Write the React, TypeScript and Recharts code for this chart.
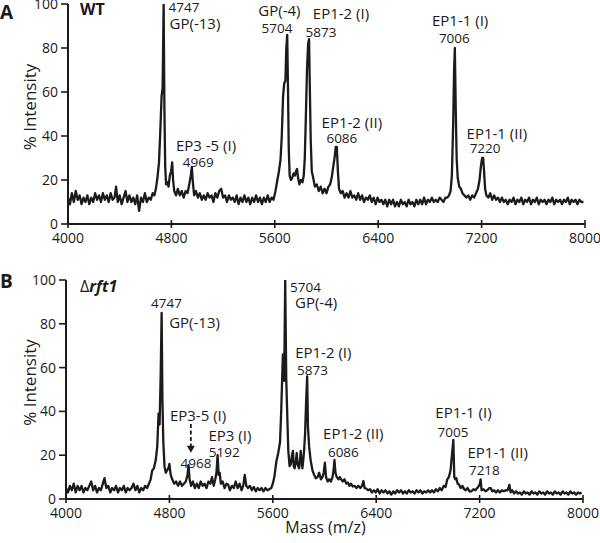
import React from 'react';
import { LineChart, Line, XAxis, YAxis, ReferenceDot, ReferenceLine, Label } from 'recharts';

const FONT = '"Open Sans", "Liberation Sans", Arial, sans-serif';
const INK = '#1c1a1a';

const massTicks = [4000, 4800, 5600, 6400, 7200, 8000];
const intensityTicks = [0, 20, 40, 60, 80, 100];

// WT spectrum: [mass (m/z), % intensity]
const wtSpectrum: [number, number][] = [
  [4000,12],[4015,9],[4030,14],[4045,10],[4060,15],[4075,11],[4090,13],[4105,9],[4120,12],[4135,10],[4150,13],[4165,9],[4180,12],[4195,10],[4210,14],[4225,11],[4240,13],[4255,10],[4270,14],[4285,11],[4300,13],[4315,10],[4330,14],[4345,11],[4360,12],[4372,17],[4385,10],[4400,13],[4415,9],[4430,12],[4445,15],[4460,10],[4475,13],[4490,10],[4505,12],[4520,9],[4535,13],[4550,6],[4565,12],[4580,10],[4595,14],[4610,10],[4625,12],[4640,11],[4655,14],[4668,13],[4680,16],[4692,21],[4704,28],[4714,42],[4724,58],[4732,62],[4740,100],[4746,52],[4752,26],[4759,18],[4768,19],[4778,17],[4788,22],[4798,24],[4806,28],[4813,20],[4822,15],[4836,13],[4850,16],[4865,13],[4880,15],[4895,12],[4910,15],[4925,14],[4938,18],[4950,22],[4958,26],[4966,19],[4976,13],[4990,15],[5005,12],[5020,14],[5035,11],[5050,13],[5065,11],[5080,14],[5095,12],[5110,13],[5125,10],[5140,14],[5155,12],[5170,15],[5185,16],[5200,12],[5215,13],[5230,10],[5245,13],[5260,11],[5275,12],[5290,10],[5305,13],[5320,9],[5335,12],[5350,10],[5365,13],[5380,10],[5395,12],[5410,9],[5425,12],[5440,10],[5455,13],[5470,10],[5485,12],[5500,9],[5515,12],[5530,10],[5545,13],[5560,10],[5575,12],[5590,11],[5605,15],[5620,20],[5632,24],[5644,29],[5654,40],[5664,58],[5673,64],[5682,65],[5689,80],[5696,86],[5702,62],[5708,34],[5715,22],[5725,20],[5735,21],[5745,23],[5755,22],[5764,24],[5772,25],[5780,21],[5790,18],[5802,20],[5814,19],[5824,22],[5832,30],[5840,48],[5849,70],[5858,82],[5865,84],[5871,62],[5878,38],[5886,24],[5897,21],[5910,17],[5925,18],[5940,15],[5955,17],[5970,14],[5985,16],[6000,14],[6015,17],[6028,18],[6040,21],[6052,26],[6062,30],[6072,35],[6080,35],[6088,24],[6097,16],[6110,14],[6125,15],[6140,12],[6155,14],[6170,12],[6185,15],[6200,12],[6215,13],[6230,11],[6245,14],[6260,11],[6275,13],[6290,10],[6305,12],[6320,11],[6335,13],[6350,10],[6365,12],[6380,9],[6395,12],[6410,10],[6425,11],[6440,9],[6455,11],[6470,8],[6485,11],[6500,9],[6515,11],[6530,8],[6545,10],[6560,8],[6575,11],[6590,9],[6605,10],[6620,8],[6635,11],[6650,9],[6665,10],[6680,8],[6695,11],[6710,9],[6725,11],[6740,9],[6755,12],[6770,9],[6785,11],[6800,10],[6815,12],[6830,10],[6845,11],[6860,10],[6875,12],[6890,11],[6905,10],[6920,12],[6935,12],[6948,13],[6960,15],[6970,22],[6980,45],[6987,70],[6993,80],[7000,52],[7007,30],[7015,21],[7027,17],[7040,16],[7052,14],[7067,13],[7082,12],[7097,13],[7112,11],[7127,13],[7142,12],[7157,14],[7172,16],[7184,20],[7194,26],[7204,30],[7212,30],[7219,24],[7227,16],[7237,13],[7252,12],[7267,14],[7282,11],[7297,13],[7312,11],[7327,12],[7342,10],[7357,12],[7372,10],[7387,11],[7402,9],[7417,11],[7432,10],[7447,12],[7462,9],[7477,11],[7492,10],[7507,12],[7522,9],[7537,11],[7552,10],[7567,12],[7582,9],[7597,11],[7612,10],[7627,12],[7642,9],[7657,11],[7672,10],[7687,11],[7702,9],[7717,11],[7732,10],[7747,12],[7762,9],[7777,11],[7792,10],[7807,11],[7822,9],[7837,11],[7852,10],[7867,12],[7882,9],[7897,11],[7912,10],[7927,11],[7942,9],[7957,11],[7972,10],[7988,10]
];

// Δrft1 spectrum: [mass (m/z), % intensity]
const rft1Spectrum: [number, number][] = [
  [4000,5],[4015,3],[4030,6],[4045,4],[4060,7],[4075,3],[4090,6],[4105,4],[4120,6],[4135,3],[4150,5],[4165,4],[4180,6],[4195,8],[4210,4],[4225,6],[4240,3],[4255,5],[4270,4],[4285,7],[4298,9.5],[4312,5],[4327,6],[4342,3],[4357,5],[4372,4],[4387,6],[4402,3],[4417,5],[4432,4],[4447,6],[4462,3],[4477,5],[4492,4],[4507,5],[4522,7],[4537,4],[4552,6],[4567,3],[4582,5],[4597,4],[4612,6],[4627,5],[4642,7],[4655,9],[4667,13],[4680,14],[4695,18],[4706,24],[4716,39],[4724,34],[4732,55],[4740,85],[4746,45],[4753,26],[4762,15],[4772,12],[4782,13],[4792,14],[4800,16],[4810,11],[4822,9],[4837,7],[4852,8],[4867,6],[4882,8],[4897,6],[4912,7],[4927,8],[4940,11],[4948,15.5],[4956,9],[4968,6],[4982,8],[4997,5],[5012,7],[5027,5],[5042,8],[5057,6],[5072,7],[5087,5],[5102,8],[5117,7],[5130,10],[5143,6],[5155,9],[5164,12],[5173,20],[5181,11],[5189,12],[5198,7],[5212,8],[5227,5],[5242,7],[5255,6.5],[5268,4],[5283,6],[5298,5],[5313,8],[5328,5],[5343,7],[5358,4],[5371,6],[5383,11],[5395,6],[5408,5],[5423,6],[5438,4],[5453,5.5],[5468,3.5],[5483,5],[5498,4],[5513,5],[5528,3.5],[5543,5],[5558,4],[5573,4.5],[5588,5],[5600,7],[5612,10],[5627,17],[5642,21],[5656,26],[5665,40],[5678,66],[5688,54],[5696,100],[5704,55],[5712,38],[5720,22],[5730,15],[5740,16],[5748,20],[5756,22],[5762,15],[5769,14],[5778,17],[5785,21],[5792,16],[5803,14],[5810,17],[5816,22],[5822,18],[5829,14],[5836,18],[5842,22],[5850,30],[5858,45],[5866,56],[5872,33],[5881,24],[5892,18],[5907,13],[5920,11],[5933,9.5],[5946,10],[5959,12],[5972,9],[5984,10],[5994,12],[6003,16.6],[6012,10],[6024,8],[6037,9],[6050,8],[6062,10],[6070,13],[6077,17.8],[6085,12],[6095,10],[6108,9],[6118,10],[6128,9],[6142,8],[6155,9],[6168,7],[6180,7.5],[6193,6],[6205,7],[6218,5.7],[6232,6],[6247,5],[6262,6],[6277,5],[6290,6],[6301,8.2],[6310,5],[6322,4.8],[6337,4],[6352,4.5],[6367,3],[6382,4],[6397,3],[6412,4.5],[6427,2.5],[6442,4],[6457,3],[6472,4],[6487,2.5],[6502,3.5],[6517,2],[6532,3.5],[6547,2.5],[6562,4],[6577,3],[6592,4],[6607,2.5],[6622,3.5],[6637,2.5],[6652,4],[6667,3],[6682,3.5],[6697,2.5],[6712,4],[6727,3],[6742,4],[6757,2.5],[6772,3.5],[6787,3],[6802,4],[6817,3],[6832,4],[6847,3],[6862,4.5],[6877,3.5],[6892,5],[6907,4],[6922,6],[6937,5.5],[6950,9],[6962,10],[6975,13],[6986,20],[6997,27],[7004,10],[7012,9],[7020,9.5],[7030,7],[7042,6.5],[7054,5],[7067,6],[7080,4.5],[7092,4],[7107,5],[7122,3.5],[7137,3.5],[7152,4.5],[7167,4],[7182,5],[7195,6],[7202,7],[7208,9],[7215,4],[7230,4.5],[7245,3.5],[7260,4],[7275,5],[7287,5],[7297,3.5],[7312,4],[7327,3],[7342,4],[7357,3],[7372,4],[7387,3.5],[7402,4],[7417,4],[7430,6.5],[7440,3],[7452,4],[7467,2.5],[7482,3.5],[7497,2.5],[7512,3],[7527,2],[7542,3.5],[7557,2.5],[7572,3],[7587,2],[7602,3.5],[7617,2.5],[7632,3],[7647,2],[7662,3.5],[7677,2.5],[7692,3],[7707,2],[7722,3.5],[7737,2.5],[7752,3],[7767,2],[7782,3.5],[7797,2.5],[7812,3],[7827,2],[7842,3.5],[7857,2.5],[7872,3],[7887,2],[7902,3.5],[7917,2.5],[7932,3],[7947,2],[7962,3],[7977,2.5],[7988,3]
];

type Note = { mass: number; level: number; text: string; kind: 'name' | 'num'; anchor: 'start' | 'middle' };

const wtNotes: Note[] = [
  { mass: 4778, level: 96.5, text: '4747', kind: 'num', anchor: 'start' },
  { mass: 4786, level: 88.6, text: 'GP(-13)', kind: 'name', anchor: 'start' },
  { mass: 5068, level: 33.2, text: 'EP3 -5 (I)', kind: 'name', anchor: 'middle' },
  { mass: 5008, level: 26, text: '4969', kind: 'num', anchor: 'middle' },
  { mass: 5636, level: 94.5, text: 'GP(-4)', kind: 'name', anchor: 'middle' },
  { mass: 5617, level: 86.7, text: '5704', kind: 'num', anchor: 'middle' },
  { mass: 6112, level: 93.0, text: 'EP1-2 (I)', kind: 'name', anchor: 'middle' },
  { mass: 5957, level: 85.1, text: '5873', kind: 'num', anchor: 'middle' },
  { mass: 6196, level: 43.8, text: 'EP1-2 (II)', kind: 'name', anchor: 'middle' },
  { mass: 6119, level: 36.7, text: '6086', kind: 'num', anchor: 'middle' },
  { mass: 7034, level: 90, text: 'EP1-1 (I)', kind: 'name', anchor: 'middle' },
  { mass: 6989, level: 82.1, text: '7006', kind: 'num', anchor: 'middle' },
  { mass: 7318, level: 38.5, text: 'EP1-1 (II)', kind: 'name', anchor: 'middle' },
  { mass: 7227, level: 32.1, text: '7220', kind: 'num', anchor: 'middle' },
];

const rft1Notes: Note[] = [
  { mass: 4778, level: 87.1, text: '4747', kind: 'num', anchor: 'middle' },
  { mass: 4798, level: 78.2, text: 'GP(-13)', kind: 'name', anchor: 'start' },
  { mass: 5022, level: 35.6, text: 'EP3-5 (I)', kind: 'name', anchor: 'middle' },
  { mass: 5006, level: 14, text: '4968', kind: 'num', anchor: 'middle' },
  { mass: 5268, level: 26.5, text: 'EP3 (I)', kind: 'name', anchor: 'middle' },
  { mass: 5224, level: 19.3, text: '5192', kind: 'num', anchor: 'middle' },
  { mass: 5733, level: 94.7, text: '5704', kind: 'num', anchor: 'start' },
  { mass: 5772, level: 87.4, text: 'GP(-4)', kind: 'name', anchor: 'start' },
  { mass: 5991, level: 64.5, text: 'EP1-2 (I)', kind: 'name', anchor: 'middle' },
  { mass: 5907, level: 56.6, text: '5873', kind: 'num', anchor: 'middle' },
  { mass: 6223, level: 27.3, text: 'EP1-2 (II)', kind: 'name', anchor: 'middle' },
  { mass: 6146, level: 19.3, text: '6086', kind: 'num', anchor: 'middle' },
  { mass: 7075, level: 37.1, text: 'EP1-1 (I)', kind: 'name', anchor: 'middle' },
  { mass: 6994, level: 28.4, text: '7005', kind: 'num', anchor: 'middle' },
  { mass: 7340, level: 18.9, text: 'EP1-1 (II)', kind: 'name', anchor: 'middle' },
  { mass: 7237, level: 11, text: '7218', kind: 'num', anchor: 'middle' },
];

type Arrow = { mass: number; from: number; to: number };
const rft1Arrows: Arrow[] = [{ mass: 4966, from: 34.2, to: 21.1 }];

const XTick = (props: any) => {
  const { x, y, payload } = props;
  const axisY = y - 9;
  return (
    <g>
      <line x1={x} x2={x} y1={axisY - 4} y2={axisY + 4} stroke={INK} strokeWidth={1.6} />
      <text x={x} y={y} dy="0.71em" textAnchor="middle" fill={INK} fontSize={14} fontFamily={FONT}>
        {payload.value}
      </text>
    </g>
  );
};

const intensityLabel = (p: any) => {
  const vb = p.viewBox || {};
  const cx = 29;
  const cy = (vb.y ?? 0) + (vb.height ?? 0) / 2 - 7;
  return (
    <text x={cx} y={cy} transform={`rotate(-90 ${cx} ${cy})`} textAnchor="middle" dominantBaseline="central"
      fontSize={17} fill={INK} fontFamily={FONT}>% Intensity</text>
  );
};

const massLabel = (p: any) => {
  const vb = p.viewBox || {};
  const cx = (vb.x ?? 0) + (vb.width ?? 0) / 2 + 1;
  const cy = (vb.y ?? 0) + 34;
  return (
    <text x={cx} y={cy} textAnchor="middle" fontSize={16} fill={INK} fontFamily={FONT}>Mass (m/z)</text>
  );
};

function renderPanel(
  spectrum: [number, number][],
  notes: Note[],
  arrows: Arrow[],
  opts: { width: number; height: number; top: number; right: number; yWidth: number; xHeight: number; xLabel: boolean }
) {
  const rows = spectrum.map(([mass, intensity]) => ({ mass, intensity }));
  return (
    <LineChart width={opts.width} height={opts.height} data={rows}
      margin={{ top: opts.top, right: opts.right, bottom: 0, left: 0 }}>
      <XAxis dataKey="mass" type="number" domain={[4000, 8000]} ticks={massTicks} interval={0}
        allowDataOverflow height={opts.xHeight} tickSize={5} tickMargin={4} tickLine={false}
        axisLine={{ stroke: INK, strokeWidth: 2 }} tick={(p: any) => <XTick {...p} />}>
        {opts.xLabel ? <Label content={massLabel} /> : null}
      </XAxis>
      <YAxis type="number" domain={[0, 100]} ticks={intensityTicks} interval={0} allowDataOverflow
        width={opts.yWidth} tickSize={7} tickMargin={3}
        tickLine={{ stroke: INK, strokeWidth: 1.6 }} axisLine={{ stroke: INK, strokeWidth: 2 }}
        tick={{ fontSize: 14, fill: INK, fontFamily: FONT }}>
        <Label content={intensityLabel} />
      </YAxis>
      <Line type="linear" dataKey="intensity" stroke={INK} strokeWidth={2.3} dot={false} activeDot={false}
        strokeLinejoin="round" isAnimationActive={false} />
      {arrows.map((a, i) => (
        <ReferenceLine key={`al${i}`} ifOverflow="visible" stroke={INK} strokeWidth={1.8} strokeDasharray="4 2.5"
          segment={[{ x: a.mass, y: a.from }, { x: a.mass, y: a.to + 2.5 }]} />
      ))}
      {arrows.map((a, i) => (
        <ReferenceDot key={`ah${i}`} x={a.mass} y={a.to} r={0} ifOverflow="visible"
          shape={(p: any) => (
            <polygon points={`${p.cx - 4},${p.cy - 7} ${p.cx + 4},${p.cy - 7} ${p.cx},${p.cy}`} fill={INK} />
          )} />
      ))}
      {notes.map((n, i) => (
        <ReferenceDot key={`n${i}`} x={n.mass} y={n.level} r={0} ifOverflow="visible"
          shape={(p: any) => (
            <text x={p.cx} y={p.cy} textAnchor={n.anchor} fill={INK} fontFamily={FONT}
              fontSize={n.kind === 'name' ? 15 : 13.5}>{n.text}</text>
          )} />
      ))}
    </LineChart>
  );
}

export default function App() {
  return (
    <div style={{ position: 'absolute', left: 0, top: 0, width: 600, height: 543, background: '#fff', overflow: 'hidden' }}>
      <style>{`.recharts-surface{overflow:visible}`}</style>
      <div style={{ position: 'absolute', left: 0, top: 0 }}>
        {renderPanel(wtSpectrum, wtNotes, [], { width: 600, height: 262, top: 4, right: 15, yWidth: 68, xHeight: 38, xLabel: false })}
      </div>
      <div style={{ position: 'absolute', left: 0, top: 262 }}>
        {renderPanel(rft1Spectrum, rft1Notes, rft1Arrows, { width: 600, height: 281, top: 18, right: 17, yWidth: 66, xHeight: 44, xLabel: true })}
      </div>
      <svg width={600} height={543} style={{ position: 'absolute', left: 0, top: 0, pointerEvents: 'none' }}>
        <text x={0} y={19} fontSize={19} fontWeight={700} fill={INK} fontFamily={FONT}>A</text>
        <text x={80} y={15} fontSize={16} fontWeight={700} fill={INK} fontFamily={FONT}>WT</text>
        <text x={0} y={288} fontSize={19} fontWeight={700} fill={INK} fontFamily={FONT}>B</text>
        <text x={80} y={291.5} fontSize={16} fill={INK} fontFamily={FONT}>
          <tspan>Δ</tspan><tspan fontWeight={700} fontStyle="italic">rft1</tspan>
        </text>
      </svg>
    </div>
  );
}
